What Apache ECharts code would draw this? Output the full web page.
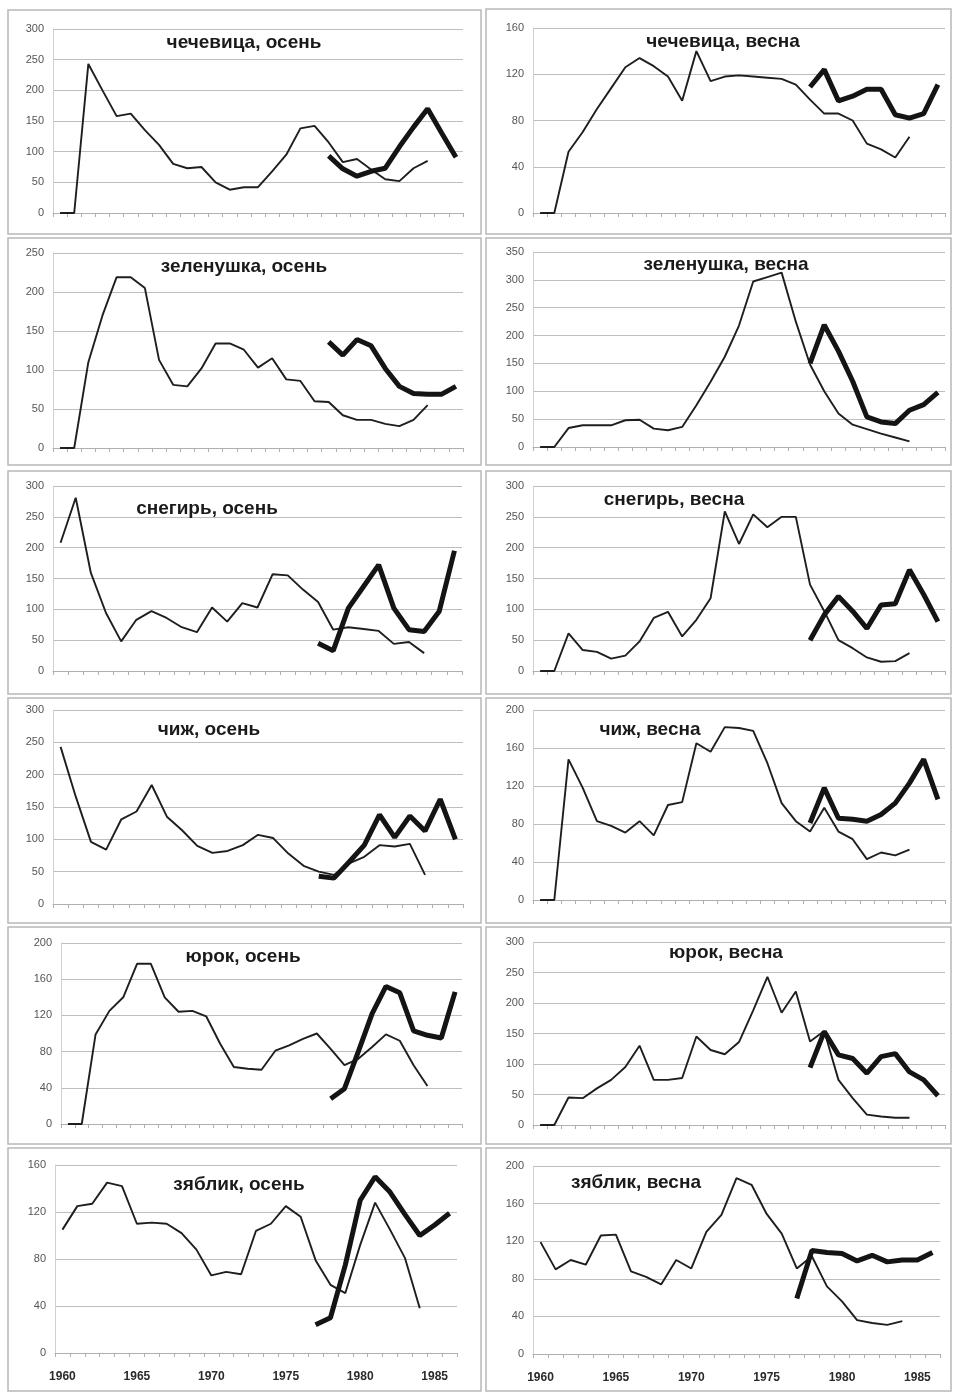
<!DOCTYPE html>
<html>
<head>
<meta charset="utf-8">
<script src="https://cdn.jsdelivr.net/npm/echarts@6.0.0/dist/echarts.min.js"></script>
<style>
  html, body { margin: 0; padding: 0; background: #fff; }
  #chart { width: 953px; height: 1393px; }
</style>
</head>
<body>
<div id="chart"></div>
<script>
// годы по оси X (две разные длины осей, как в исходных графиках)
const yearsLong = ['1960','1961','1962','1963','1964','1965','1966','1967','1968','1969','1970','1971','1972','1973','1974','1975','1976','1977','1978','1979','1980','1981','1982','1983','1984','1985','1986','1987','1988']
const yearsShort = ['1960','1961','1962','1963','1964','1965','1966','1967','1968','1969','1970','1971','1972','1973','1974','1975','1976','1977','1978','1979','1980','1981','1982','1983','1984','1985','1986']

// тонкая линия начинается с 1960, толстая — с указанного года
const chechevitsaAutumn = [0,0,243,200,158,162,135,111,80,73,75,50,38,42,42,68,95,138,142,115,83,88,71,55,52,73,85]
const chechevitsaAutumnNew = [93,72,60,68,73,108,140,170,130,91] // с 1979
const chechevitsaSpring = [0,0,53,70,90,108,126,134,127,118,97,140,114,118,119,118,117,116,111,98,86,86,80,60,55,48,66]
const chechevitsaSpringNew = [109,124,97,101,107,107,85,82,86,111] // с 1979
const zelenushkaAutumn = [0,0,110,170,219,219,205,113,81,79,102,134,134,126,103,115,88,86,60,59,42,36,36,31,28,36,55]
const zelenushkaAutumnNew = [136,119,139,131,102,79,70,69,69,79] // с 1979
const zelenushkaSpring = [0,0,34,39,39,39,48,49,33,30,36,75,117,162,218,297,305,313,225,148,100,60,40,32,24,17,10]
const zelenushkaSpringNew = [150,219,172,118,54,45,42,66,76,98] // с 1979
const snegirAutumn = [208,281,159,94,48,83,97,86,71,63,103,80,110,103,157,155,132,112,67,71,68,65,44,47,29]
const snegirAutumnNew = [45,33,102,137,172,102,67,64,97,195] // с 1977
const snegirSpring = [0,0,61,34,31,20,25,48,86,96,56,83,118,259,206,254,233,250,250,140,97,50,37,22,15,16,29]
const snegirSpringNew = [50,91,121,97,69,107,109,164,124,80] // с 1979
const chizhAutumn = [243,166,96,84,131,143,184,135,114,90,79,82,91,107,102,78,59,50,45,63,73,91,89,93,45]
const chizhAutumnNew = [43,40,65,91,138,103,136,113,162,100] // с 1977
const chizhSpring = [0,0,148,118,83,78,71,83,68,100,103,165,156,182,181,178,144,102,83,72,97,72,64,43,50,47,53]
const chizhSpringNew = [81,118,86,85,83,90,102,123,148,106] // с 1979
const yurokAutumn = [0,0,99,125,140,177,177,140,124,125,119,89,63,61,60,81,87,94,100,83,65,72,85,99,92,65,42]
const yurokAutumnNew = [28,39,80,122,152,145,103,98,95,146] // с 1979
const yurokSpring = [0,0,45,44,60,74,95,130,74,74,77,145,123,116,136,188,243,184,219,137,154,74,44,17,14,12,12]
const yurokSpringNew = [94,153,115,109,85,112,117,87,74,48] // с 1979
const zyablikAutumn = [105,125,127,145,142,110,111,110,102,88,66,69,67,104,110,125,116,79,58,51,92,128,105,81,38]
const zyablikAutumnNew = [24,30,75,130,150,137,118,100,109,119] // с 1977
const zyablikSpring = [119,90,100,95,126,127,88,82,74,100,91,130,148,187,180,149,128,91,104,72,56,36,33,31,35]
const zyablikSpringNew = [59,110,108,107,99,105,98,100,100,108] // с 1977

const panels = [
  { title: 'чечевица, осень', years: yearsLong, thin: chechevitsaAutumn, thick: chechevitsaAutumnNew, from: 1979, max: 300, step: 50 },
  { title: 'чечевица, весна', years: yearsLong, thin: chechevitsaSpring, thick: chechevitsaSpringNew, from: 1979, max: 160, step: 40 },
  { title: 'зеленушка, осень', years: yearsLong, thin: zelenushkaAutumn, thick: zelenushkaAutumnNew, from: 1979, max: 250, step: 50 },
  { title: 'зеленушка, весна', years: yearsLong, thin: zelenushkaSpring, thick: zelenushkaSpringNew, from: 1979, max: 350, step: 50 },
  { title: 'снегирь, осень', years: yearsShort, thin: snegirAutumn, thick: snegirAutumnNew, from: 1977, max: 300, step: 50 },
  { title: 'снегирь, весна', years: yearsLong, thin: snegirSpring, thick: snegirSpringNew, from: 1979, max: 300, step: 50 },
  { title: 'чиж, осень', years: yearsShort, thin: chizhAutumn, thick: chizhAutumnNew, from: 1977, max: 300, step: 50 },
  { title: 'чиж, весна', years: yearsLong, thin: chizhSpring, thick: chizhSpringNew, from: 1979, max: 200, step: 40 },
  { title: 'юрок, осень', years: yearsLong, thin: yurokAutumn, thick: yurokAutumnNew, from: 1979, max: 200, step: 40 },
  { title: 'юрок, весна', years: yearsLong, thin: yurokSpring, thick: yurokSpringNew, from: 1979, max: 300, step: 50 },
  { title: 'зяблик, осень', years: yearsShort, thin: zyablikAutumn, thick: zyablikAutumnNew, from: 1977, max: 160, step: 40 },
  { title: 'зяблик, весна', years: yearsShort, thin: zyablikSpring, thick: zyablikSpringNew, from: 1977, max: 200, step: 40 }
]

// расположение: рамка, область графика, заголовок
const layout = [
  { frame: [8, 10, 473, 224], grid: [53, 29, 410, 184], tx: 244, ty: 43 },
  { frame: [486, 9, 465, 225], grid: [533, 28, 412, 185], tx: 723, ty: 42 },
  { frame: [8, 238, 473, 227], grid: [53, 253, 410, 195], tx: 244, ty: 267 },
  { frame: [486, 238, 465, 227], grid: [533, 252, 412, 195], tx: 726, ty: 265 },
  { frame: [8, 471, 473, 223], grid: [53, 486, 409, 185], tx: 207, ty: 509 },
  { frame: [486, 471, 465, 223], grid: [533, 486, 412, 185], tx: 674, ty: 500 },
  { frame: [8, 698, 473, 225], grid: [53, 710, 410, 194], tx: 209, ty: 730 },
  { frame: [486, 698, 465, 225], grid: [533, 710, 412, 190], tx: 650, ty: 730 },
  { frame: [8, 927, 473, 217], grid: [61, 943, 401, 181], tx: 243, ty: 957 },
  { frame: [486, 927, 465, 217], grid: [533, 942, 412, 183], tx: 726, ty: 953 },
  { frame: [8, 1148, 473, 243], grid: [55, 1165, 402, 188], tx: 239, ty: 1185 },
  { frame: [486, 1148, 465, 243], grid: [533, 1166, 407, 188], tx: 636, ty: 1183 }
]

const chart = echarts.init(document.getElementById('chart'))

const grid = []
const xAxis = []
const yAxis = []
const series = []
const graphic = []

panels.forEach((p, i) => {
  const L = layout[i]
  const showYears = i >= 10
  grid.push({ left: L.grid[0], top: L.grid[1], width: L.grid[2], height: L.grid[3] })
  xAxis.push({
    type: 'category',
    gridIndex: i,
    data: p.years,
    boundaryGap: true,
    axisLine: { lineStyle: { color: '#b0b0b0', width: 1 } },
    axisTick: { show: true, length: 4, interval: 0, lineStyle: { color: '#b0b0b0' } },
    axisLabel: {
      show: showYears,
      interval: (idx, val) => Number(val) % 5 === 0,
      color: '#2a2a2a',
      fontSize: 12,
      fontWeight: 'bold',
      fontFamily: 'Liberation Sans',
      margin: 18
    },
    splitLine: { show: false }
  })
  yAxis.push({
    type: 'value',
    gridIndex: i,
    min: 0,
    max: p.max,
    interval: p.step,
    axisLine: { show: true, lineStyle: { color: '#d0d0d0' } },
    axisTick: { show: false },
    axisLabel: { color: '#555', fontSize: 11, fontFamily: 'Liberation Sans', margin: 9 },
    splitLine: { lineStyle: { color: '#bdbdbd', width: 1 } }
  })
  const thinData = p.years.map((y, k) => (k < p.thin.length ? p.thin[k] : null))
  const offset = p.from - 1960
  const thickData = p.years.map((y, k) => (k >= offset && k - offset < p.thick.length ? p.thick[k - offset] : null))
  series.push({
    type: 'line', xAxisIndex: i, yAxisIndex: i, data: thinData,
    symbol: 'none', connectNulls: false, silent: true,
    lineStyle: { color: '#1e1e1e', width: 1.9 }
  })
  series.push({
    type: 'line', xAxisIndex: i, yAxisIndex: i, data: thickData,
    symbol: 'none', connectNulls: false, silent: true,
    lineStyle: { color: '#141414', width: 5 }
  })
  graphic.push({
    type: 'rect',
    shape: { x: L.frame[0], y: L.frame[1], width: L.frame[2], height: L.frame[3] },
    style: { fill: 'none', stroke: '#b8b8b8', lineWidth: 1.5 },
    silent: true
  })
  graphic.push({
    type: 'text',
    x: L.tx,
    y: L.ty,
    style: {
      text: p.title,
      fill: '#1a1a1a',
      font: 'bold 19px "Liberation Sans"',
      textAlign: 'center',
      textVerticalAlign: 'middle'
    },
    silent: true,
    z: 10
  })
})

chart.setOption({
  animation: false,
  backgroundColor: '#fff',
  grid,
  xAxis,
  yAxis,
  series,
  graphic
})
</script>
</body>
</html>
